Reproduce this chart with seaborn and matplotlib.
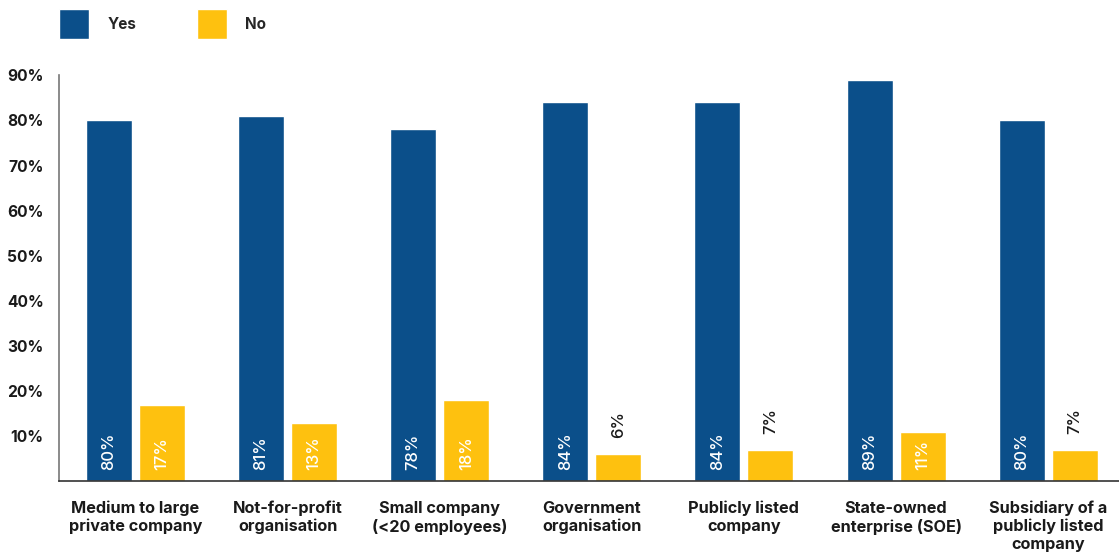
import matplotlib
matplotlib.use("Agg")
import matplotlib.pyplot as plt
import seaborn as sns
import pandas as pd

categories = [
    "Medium to large\nprivate company",
    "Not-for-profit\norganisation",
    "Small company\n(<20 employees)",
    "Government\norganisation",
    "Publicly listed\ncompany",
    "State-owned\nenterprise (SOE)",
    "Subsidiary of a\npublicly listed\ncompany",
]
yes_values = [80, 81, 78, 84, 84, 89, 80]
no_values = [17, 13, 18, 6, 7, 11, 7]
series_names = ["Yes", "No"]
y_ticks = [10, 20, 30, 40, 50, 60, 70, 80, 90]

BLUE = "#0B4F8A"
YELLOW = "#FEC10F"
TEXT = "#1a1a1a"
FONT = ["Inter", "DejaVu Sans"]

sns.set_theme(style="white")
plt.rcParams["font.family"] = FONT

df = pd.DataFrame({
    "category": categories * 2,
    "series": [series_names[0]] * len(categories) + [series_names[1]] * len(categories),
    "value": yes_values + no_values,
})

fig = plt.figure(figsize=(11.19, 5.55), dpi=100)
ax = fig.add_axes([59 / 1119, 73.7 / 555, 1 - 59 / 1119, (481.3 - 75.3) / 555])

sns.barplot(
    data=df, x="category", y="value", hue="series",
    hue_order=series_names, palette=[BLUE, YELLOW],
    width=0.697, gap=0.132, saturation=1, ax=ax, legend=True,
)

ax.set_ylim(0, 90)
ax.set_xlim(-0.503, 6.466)
ax.set_yticks(y_ticks)
ax.set_yticklabels([f"{t}%" for t in y_ticks], fontsize=11.2, fontweight="bold", color=TEXT)
ax.tick_params(axis="y", direction="in", length=9, width=1.2, color="#777777", pad=11)
ax.tick_params(axis="x", length=0, pad=14)
for lab in ax.get_xticklabels():
    lab.set_fontsize(11.7)
    lab.set_fontweight("bold")
    lab.set_color(TEXT)
    lab.set_linespacing(1.22)
ax.set_xlabel("")
ax.set_ylabel("")
for side in ["top", "right"]:
    ax.spines[side].set_visible(False)
ax.spines["left"].set_color("#777777")
ax.spines["left"].set_linewidth(1.2)
ax.spines["bottom"].set_color("#333333")
ax.spines["bottom"].set_linewidth(1.2)

# value labels: inside the bar when it is tall enough, otherwise above it
for container, values in zip(ax.containers, [yes_values, no_values]):
    for bar, v in zip(container, values):
        cx = bar.get_x() + bar.get_width() / 2
        if v >= 10:
            ax.text(cx, 2.4, f"{v}%", rotation=90, ha="center", va="bottom",
                    color="white", fontsize=12, fontweight="medium")
        else:
            ax.text(cx, v + 3.5, f"{v}%", rotation=90, ha="center", va="bottom",
                    color=TEXT, fontsize=12, fontweight="medium")

leg = ax.get_legend()
handles = leg.legend_handles
leg.remove()
fig.legend(
    handles, series_names, loc="upper left", bbox_to_anchor=(59 / 1119, 1 - 9 / 555),
    ncol=2, frameon=False, handlelength=1.95, handleheight=2.64,
    handletextpad=1.2, columnspacing=4.0, borderaxespad=0, borderpad=0,
    prop={"family": FONT, "weight": "bold", "size": 11},
)

fig.savefig("out.png", dpi=100)
